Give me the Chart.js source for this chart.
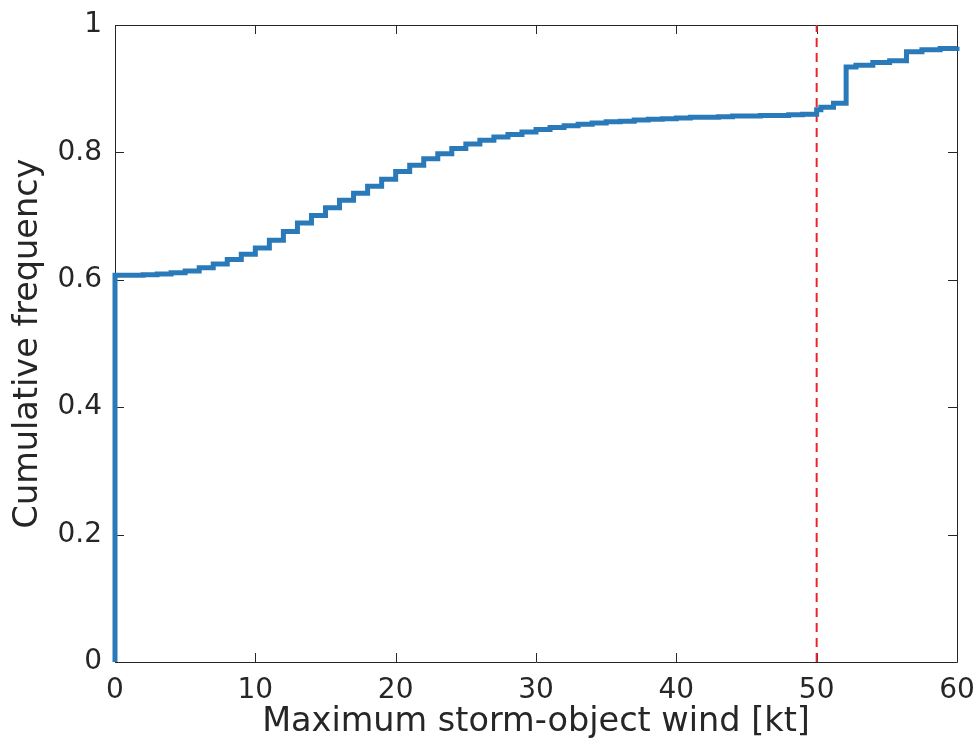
<!DOCTYPE html>
<html><head>
<meta charset="utf-8">
<script src="https://cdn.jsdelivr.net/npm/chart.js@4/dist/chart.umd.min.js"></script>
<style>html,body{margin:0;padding:0;background:#fff}#wrap{width:979px;height:749px}</style>
</head><body><div id="wrap"><canvas id="c" width="979" height="749"></canvas></div>
<script>
const windKt = [0, 0, 1, 2, 3, 4, 5, 6, 7, 8, 9, 10, 11, 12, 13, 14, 15, 16, 17, 18, 19, 20,
  21, 22, 23, 24, 25, 26, 27, 28, 29, 30, 31, 32, 33, 34, 35, 36, 37, 38, 39, 40,
  41, 42, 43, 44, 45, 46, 47, 48, 49, 50, 50.3, 51.2, 52.1, 52.8, 54.0, 55.2, 56.4, 57.5, 58.8, 60];
const cumFreq = [0, 0.607, 0.607, 0.608, 0.609, 0.611, 0.614, 0.619, 0.625, 0.632, 0.640, 0.650,
  0.662, 0.676, 0.689, 0.701, 0.713, 0.725, 0.736, 0.747, 0.758, 0.770,
  0.780, 0.790, 0.798, 0.806, 0.813, 0.819, 0.824, 0.828, 0.832, 0.836,
  0.839, 0.842, 0.844, 0.846, 0.848, 0.849, 0.851, 0.852, 0.853, 0.854,
  0.855, 0.855, 0.856, 0.857, 0.857, 0.858, 0.858, 0.859, 0.860, 0.867,
  0.871, 0.877, 0.934, 0.937, 0.941, 0.944, 0.958, 0.961, 0.963, 0.966];
const thresholdKt = [50, 50];
const thresholdFreq = [0, 1];
const xTicks = [0, 10, 20, 30, 40, 50, 60];
const yTicks = [0, 0.2, 0.4, 0.6, 0.8, 1];
const xLabel = 'Maximum storm-object wind [kt]';
const yLabel = 'Cumulative frequency';

const ink = '#262626';
const boxPlugin = {
  id: 'box',
  beforeDatasetsDraw(chart) {
    const {ctx, chartArea: a, scales: {x, y}} = chart;
    ctx.save();
    ctx.strokeStyle = ink;
    ctx.lineWidth = 1;
    ctx.beginPath();
    ctx.rect(Math.round(a.left) + 0.5, Math.round(a.top) + 0.5, Math.round(a.right - a.left), Math.round(a.bottom - a.top));
    const L = 9;
    xTicks.forEach(v => {
      const px = Math.round(x.getPixelForValue(v)) + 0.5;
      ctx.moveTo(px, a.bottom); ctx.lineTo(px, a.bottom - L);
      ctx.moveTo(px, a.top); ctx.lineTo(px, a.top + L);
    });
    yTicks.forEach(v => {
      const py = Math.round(y.getPixelForValue(v)) + 0.5;
      ctx.moveTo(a.left, py); ctx.lineTo(a.left + L, py);
      ctx.moveTo(a.right, py); ctx.lineTo(a.right - L, py);
    });
    ctx.stroke();
    ctx.restore();
  }
};

new Chart(document.getElementById('c'), {
  type: 'line',
  data: {
    datasets: [
      {
        data: windKt.map((v, i) => ({x: v, y: cumFreq[i]})),
        borderColor: '#2a7ab9',
        borderWidth: 5,
        stepped: 'before',
        pointRadius: 0,
        fill: false,
        clip: false
      },
      {
        data: thresholdKt.map((v, i) => ({x: v, y: thresholdFreq[i]})),
        borderColor: '#e8262a',
        borderWidth: 2,
        borderDash: [9, 6],
        pointRadius: 0,
        fill: false
      }
    ]
  },
  options: {
    responsive: false,
    animation: false,
    devicePixelRatio: 1,
    layout: {padding: {top: 25, right: 22, left: 0, bottom: 0}},
    plugins: {legend: {display: false}, tooltip: {enabled: false}},
    scales: {
      x: {
        type: 'linear', min: 0, max: 60,
        afterBuildTicks: s => { s.ticks = xTicks.map(v => ({value: v})); },
        afterFit: s => { s.height = 87; s.paddingLeft = 0; s.paddingRight = 0; },
        grid: {display: false, drawTicks: false},
        border: {display: false},
        ticks: {color: ink, padding: 12, font: {family: 'DejaVu Sans', size: 28}, maxRotation: 0},
        title: {display: true, text: xLabel, color: ink, font: {family: 'DejaVu Sans', size: 33.5, lineHeight: 1}, padding: {top: 0, bottom: 10}}
      },
      y: {
        type: 'linear', min: 0, max: 1,
        afterBuildTicks: s => { s.ticks = yTicks.map(v => ({value: v})); },
        afterFit: s => { s.width = 115; s.paddingTop = 0; s.paddingBottom = 0; },
        grid: {display: false, drawTicks: false},
        border: {display: false},
        ticks: {color: ink, padding: 13, font: {family: 'DejaVu Sans', size: 28},
          callback: v => (v === 0 || v === 1) ? String(v) : v.toFixed(1)},
        title: {display: true, text: yLabel, color: ink, font: {family: 'DejaVu Sans', size: 33.5, lineHeight: 1}, padding: {top: 12, bottom: 0}}
      }
    }
  },
  plugins: [boxPlugin]
});
</script>
</body></html>
